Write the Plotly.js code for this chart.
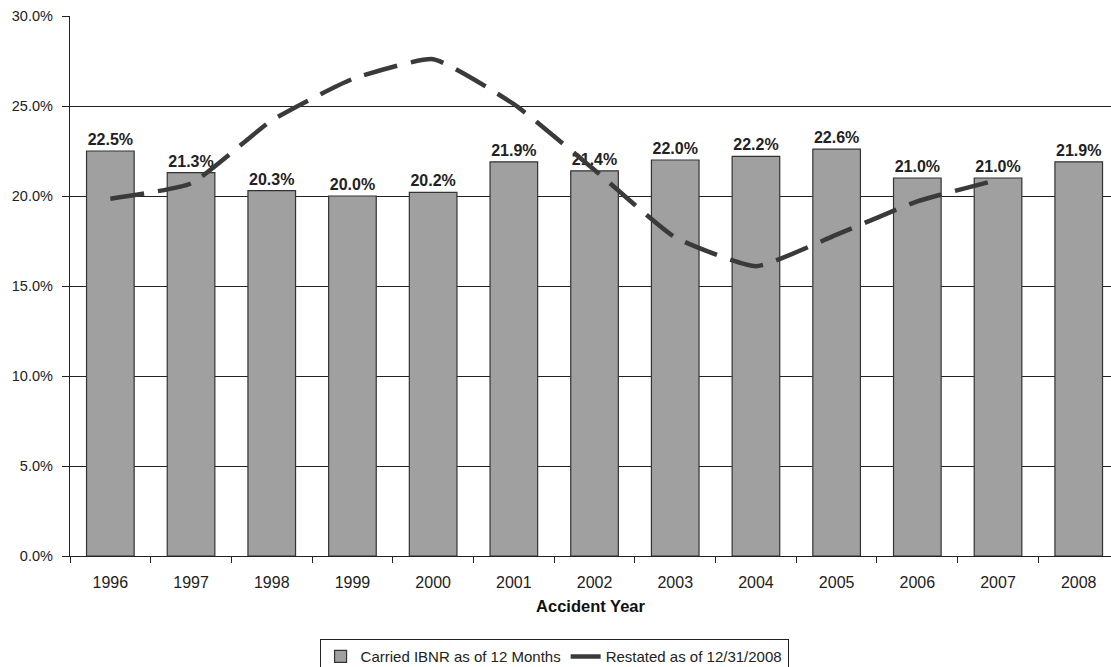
<!DOCTYPE html>
<html>
<head>
<meta charset="utf-8">
<script src="https://cdn.plot.ly/plotly-3.0.1.min.js"></script>
<style>
  html, body { margin: 0; padding: 0; background: #fff; }
  #chart { width: 1111px; height: 667px; }
</style>
</head>
<body>
<div id="chart"></div>
<script>
// Accident years on the category axis
const years = ['1996','1997','1998','1999','2000','2001','2002','2003','2004','2005','2006','2007','2008'];

// Carried IBNR as a share, at 12 months of development
const carriedIbnr = [0.225, 0.213, 0.203, 0.200, 0.202, 0.219, 0.214, 0.220, 0.222, 0.226, 0.210, 0.210, 0.219];

// Restated share as of 12/31/2008 (no value for 2008)
const restatedYears = ['1996','1997','1998','1999','2000','2001','2002','2003','2004','2005','2006','2007'];
const restated = [0.1985, 0.207, 0.242, 0.265, 0.276, 0.251, 0.2145, 0.177, 0.161, 0.1785, 0.197, 0.209];

const yTicks = [0, 0.05, 0.10, 0.15, 0.20, 0.25, 0.30];

const fam = 'Liberation Sans, Arial, sans-serif';
const ink = '#222';

const traces = [
  {
    type: 'bar',
    name: 'Carried IBNR as of 12 Months',
    x: years,
    y: carriedIbnr,
    marker: { color: '#a0a0a0', line: { color: '#333', width: 1.2 } },
    text: carriedIbnr.map(v => (v * 100).toFixed(1) + '%'),
    textposition: 'outside',
    textfont: { family: fam, size: 16, color: ink, weight: 'bold' },
    cliponaxis: false,
    hoverinfo: 'skip'
  },
  {
    type: 'scatter',
    mode: 'lines',
    name: 'Restated as of 12/31/2008',
    x: restatedYears,
    y: restated,
    line: { color: '#3a3a3a', width: 4.5, dash: '34px,14px', shape: 'spline', smoothing: 0.45 },
    hoverinfo: 'skip'
  }
];

const layout = {
  width: 1111,
  height: 667,
  margin: { l: 70, r: 0, t: 16, b: 111, autoexpand: false },
  paper_bgcolor: '#fff',
  plot_bgcolor: '#fff',
  font: { family: fam, size: 14, color: ink },
  bargap: 0.41,
  showlegend: true,
  legend: {
    orientation: 'h',
    x: 0.465, xanchor: 'center',
    y: -0.154, yanchor: 'top',
    bordercolor: ink, borderwidth: 1,
    font: { family: fam, size: 15, color: ink },
    itemwidth: 30,
    traceorder: 'normal'
  },
  xaxis: {
    type: 'category',
    range: [-0.5, 12.4],
    automargin: false,
    showline: true, linecolor: ink, linewidth: 1.2,
    ticks: 'outside', tickson: 'boundaries', ticklen: 6, tickcolor: ink,
    ticklabelstandoff: 12,
    tickfont: { family: fam, size: 16, color: ink },
    showgrid: false,
    title: { text: 'Accident Year', font: { family: fam, size: 16.5, color: '#111', weight: 'bold' }, standoff: 10 }
  },
  yaxis: {
    range: [0, 0.3],
    automargin: false,
    tickvals: yTicks,
    tickformat: '.1%',
    showline: true, linecolor: ink, linewidth: 1.2,
    ticks: 'outside', ticklen: 7, tickcolor: ink,
    ticklabelstandoff: 6,
    tickfont: { family: fam, size: 14.5, color: ink },
    showgrid: true, gridcolor: ink, gridwidth: 1,
    zeroline: false
  }
};

Plotly.newPlot('chart', traces, layout, { staticPlot: true, displayModeBar: false });
</script>
</body>
</html>
